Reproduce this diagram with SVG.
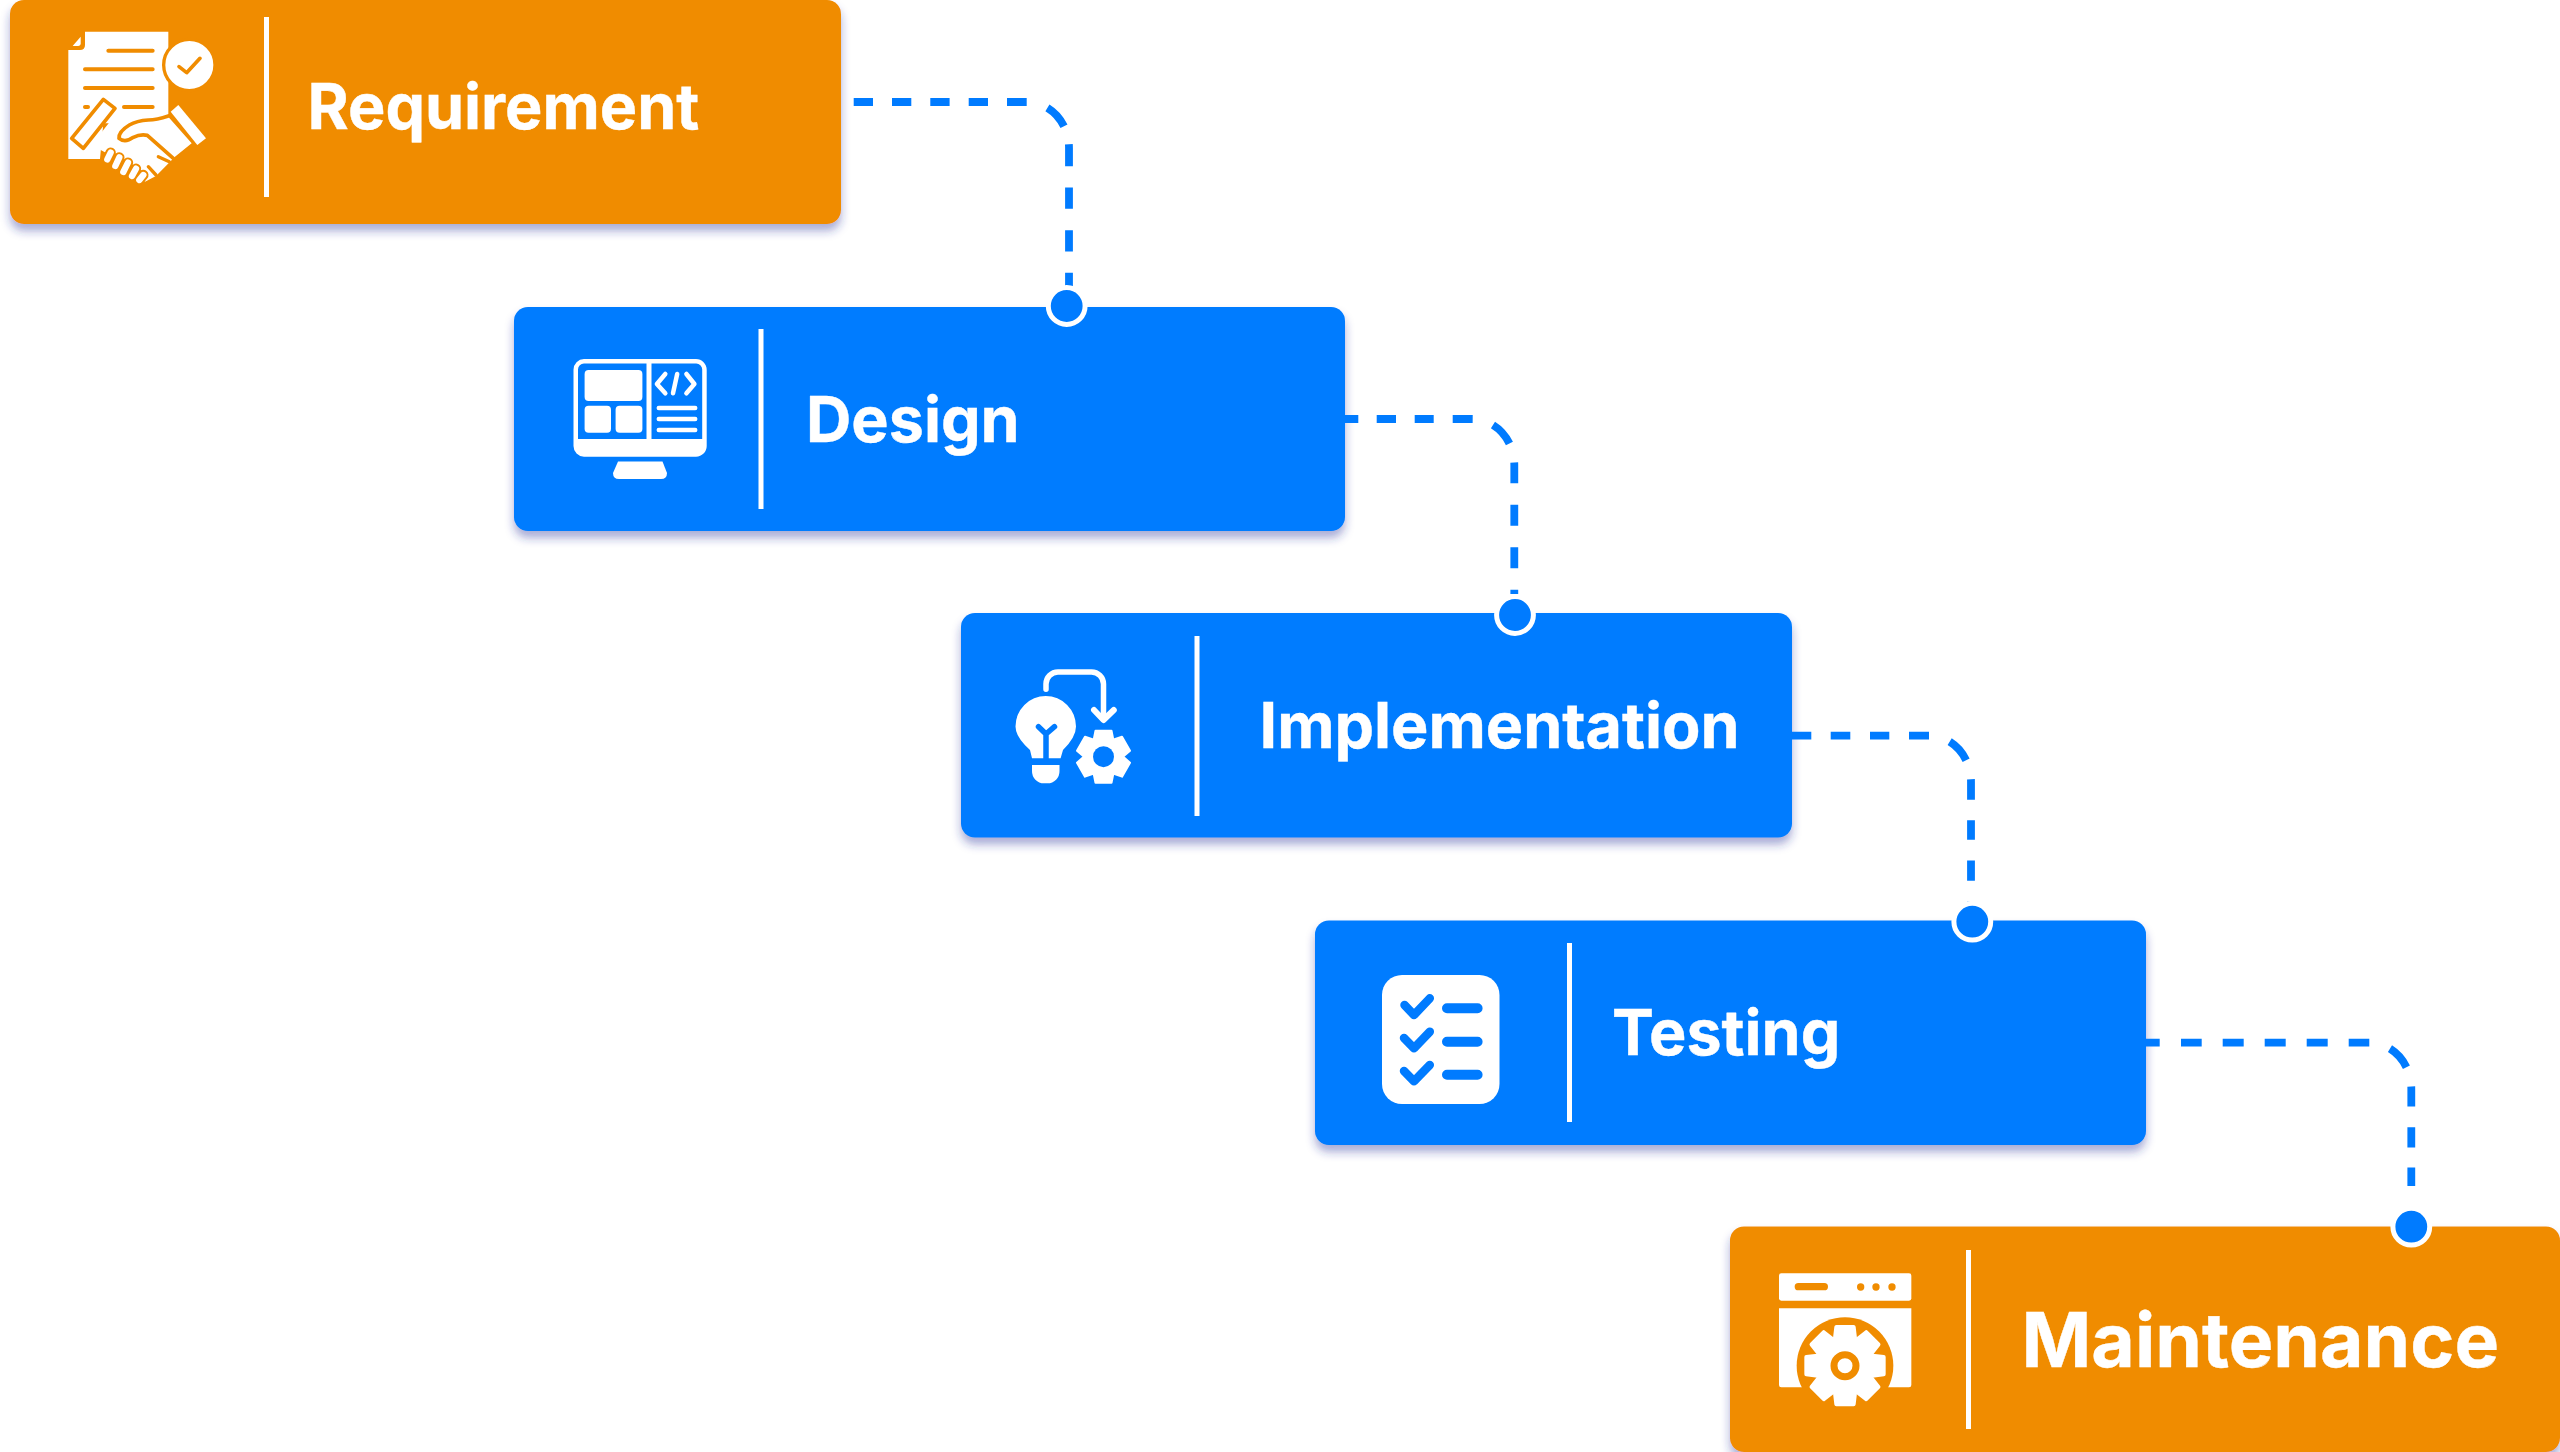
<svg xmlns="http://www.w3.org/2000/svg" width="2560" height="1452" viewBox="0 0 2560 1452">
<style>
.card{filter:url(#sh)}
.or{fill:#F08C00}
.bl{fill:#007BFF}
.div{fill:#fff}
.lbl{font-family:"Inter","Liberation Sans",sans-serif;font-weight:700;fill:#fff;stroke:#fff;stroke-width:0.4}
.w{fill:#fff}
.ol{fill:none;stroke:#F08C00;stroke-linecap:round;stroke-linejoin:round}
.bll{fill:none;stroke:#007BFF;stroke-linecap:round;stroke-linejoin:round}
.wl{fill:none;stroke:#fff;stroke-linecap:round;stroke-linejoin:round}
.cn{fill:none;stroke:#007BFF;stroke-width:7.8}
.dot{fill:#007BFF;stroke:#fff;stroke-width:5}
</style>
<defs>
<filter id="sh" x="-5%" y="-10%" width="110%" height="125%"><feDropShadow dx="0" dy="7" stdDeviation="5" flood-color="#2a2f9a" flood-opacity="0.4"/></filter>
<path id="t5" d="M-30 -82L-26 -116H26L30 -82Z" fill="#fff" stroke="#fff" stroke-width="12" stroke-linejoin="round"/>
<path id="t3" d="M-10 -16L-8 -26H8L10 -16Z" fill="#fff" stroke="#fff" stroke-width="2" stroke-linejoin="round"/>
</defs>
<rect width="2560" height="1452" fill="#fff"/>

<g id="node-requirement">
<rect class="card or" x="10" y="0" width="831" height="224" rx="14"/>
<g transform="translate(50 10) scale(.33333)">
<path class="w" d="M105 65H355V340H160L150 447H55V120H90Q105 120 105 105Z"/>
<path class="w" d="M68 108L92 80V100Q92 108 84 108Z"/>
<g class="ol" stroke-width="12"><path d="M175 122H308M105 178H308M105 234H308M222 291H308M105 291H114"/></g>
<circle cx="418" cy="165" r="77" class="w" stroke="#F08C00" stroke-width="10"/>
<path class="ol" stroke-width="11" d="M387 170L410 188L450 145"/>
<path class="w" d="M190 322Q250 345 350 315L425 400L375 440L318 498L285 515L170 430L125 405Z"/>
<path class="w" stroke="#F08C00" stroke-width="11" stroke-linejoin="round" d="M160 268L195 295L100 415L65 385Z"/>
<path class="w" d="M385 285L468 385L442 405L362 305Z"/>
<path class="ol" stroke-width="11" d="M355 318Q320 330 295 330Q260 332 238 345Q205 365 207 385Q225 400 250 382Q270 372 292 376L370 445"/>
<g class="ol" stroke-width="10"><path d="M325 440L358 455M295 470L318 495"/></g>
<g stroke="#F08C00" stroke-width="31" stroke-linecap="round"><path d="M182 428L172 448M208 442L196 468M234 458L220 486M258 476L246 498M280 495L268 510"/></g>
<g stroke="#fff" stroke-width="19" stroke-linecap="round"><path d="M182 428L172 448M208 442L196 468M234 458L220 486M258 476L246 498M280 495L268 510"/></g>
</g>
<rect class="div" x="264" y="17" width="5" height="180"/>
<text class="lbl" x="307.500" y="129" font-size="62.800">Requirement</text>
</g>

<g id="node-design">
<rect class="card bl" x="514" y="307" width="831" height="224" rx="14"/>
<path class="w" fill-rule="evenodd" d="M584 359H696A10.7 10.7 0 0 1 706.7 369.7V446A10.7 10.7 0 0 1 696 456.7H584A10.7 10.7 0 0 1 573.500 446V369.700A10.7 10.700 0 0 1 584 359ZM584 363.500A6 6 0 0 0 578 369.500V439H646.500V363.500ZM651.500 363.500V439H702.200V369.500A6 6 0 0 0 696 363.500Z"/>
<rect class="w" x="584.600" y="370" width="57.800" height="31" rx="4"/>
<rect class="w" x="584.600" y="405.700" width="26.400" height="27" rx="4"/>
<rect class="w" x="615.600" y="405.700" width="26.800" height="27" rx="4"/>
<g class="wl" stroke-width="4.500"><path d="M665.300 374L656.900 384L665.300 393.300M677.200 374L673 393.300M686.400 374L694.400 384L686.400 393.300M658.800 408H695.200M658.800 419H695.200M658.800 430H695.200"/></g>
<path class="w" d="M618 461.500H662.500L667 473Q667 479 661 479H619Q613 479 613 473Z"/>
<rect class="div" x="758.500" y="329" width="5" height="180"/>
<text class="lbl" x="806" y="442" font-size="62.800">Design</text>
</g>

<g id="node-implementation">
<rect class="card bl" x="961" y="613" width="831" height="224.500" rx="14"/>
<path class="w" d="M1032 758.300L1030 750Q1015.500 737 1015.500 726.500A30.200 30.500 0 0 1 1076 726.500Q1076 737 1063 750L1060.600 758.300Z"/>
<path class="bll" stroke-width="5.500" d="M1038.500 726.700L1046 734L1054.500 726.700M1046 734V759"/>
<path class="w" d="M1032 765H1059.500V771A12 12 0 0 1 1047.500 783.300H1044A12 12 0 0 1 1032 771Z"/>
<path class="wl" stroke-width="5.500" stroke-linecap="butt" d="M1046 689.300V684A12 12 0 0 1 1058 672H1091.500A12 12 0 0 1 1103.500 684V719"/>
<path class="wl" stroke-width="6" d="M1094 710L1103.500 720L1113.800 710"/>
<g transform="translate(1103.500 756.700)">
<circle r="20" class="w"/>
<use href="#t3"/><use href="#t3" transform="rotate(60)"/><use href="#t3" transform="rotate(120)"/><use href="#t3" transform="rotate(180)"/><use href="#t3" transform="rotate(240)"/><use href="#t3" transform="rotate(300)"/>
<circle r="10.500" class="bl"/>
</g>
<rect class="div" x="1194.500" y="636" width="5" height="180"/>
<text class="lbl" x="1259.500" y="748" font-size="62.800">Implementation</text>
</g>

<g id="node-testing">
<rect class="card bl" x="1315" y="920.500" width="831" height="224.500" rx="14"/>
<rect class="w" x="1382" y="975" width="117.500" height="129" rx="20"/>
<g class="bll" stroke-width="8.500"><path d="M1404.500 1005L1414 1015L1429.800 998.300M1404 1038L1414 1048.300L1429.800 1031.700M1404 1071L1414 1081.300L1429.800 1065"/></g>
<g class="bll" stroke-width="10"><path d="M1447 1008.300H1477.600M1447 1041.700H1477.600M1447 1074.700H1477.600"/></g>
<rect class="div" x="1567" y="943" width="5" height="179"/>
<text class="lbl" x="1612" y="1055" font-size="62.800">Testing</text>
</g>

<g id="node-maintenance">
<rect class="card or" x="1730" y="1226.500" width="830" height="225.500" rx="14"/>
<g transform="translate(1760 1260) scale(.33333)">
<rect class="w" x="57" y="40" width="397" height="82" rx="7"/>
<path class="ol" stroke-width="22" d="M115 80H193"/>
<circle class="or" cx="302" cy="81" r="11"/><circle class="or" cx="348" cy="81" r="11"/><circle class="or" cx="396" cy="81" r="11"/>
<path class="w" d="M57 145H454V375Q454 382 447 382H64Q57 382 57 375Z"/>
<circle class="or" cx="255" cy="317" r="145"/>
<g transform="translate(255 317)">
<circle class="w" r="88"/>
<use href="#t5"/><use href="#t5" transform="rotate(45)"/><use href="#t5" transform="rotate(90)"/><use href="#t5" transform="rotate(135)"/><use href="#t5" transform="rotate(180)"/><use href="#t5" transform="rotate(225)"/><use href="#t5" transform="rotate(270)"/><use href="#t5" transform="rotate(315)"/>
<circle r="33" fill="none" stroke="#F08C00" stroke-width="21"/>
</g>
</g>
<rect class="div" x="1966" y="1250" width="5" height="179"/>
<text class="lbl" x="2021.500" y="1367" font-size="75">Maintenance</text>
</g>

<g id="connectors">
<path class="cn" d="M853.700 102H1027A42 46 0 0 1 1069 148V286" stroke-dasharray="19.300 19 19.300 19 19.300 19.100 19.300 19 19.700 21.800 25 18.700 22 21.300 21.300 21.400 21.300 21.300 21 99"/>
<path class="cn" d="M1345 419H1472.300A42 46 0 0 1 1514.300 465V594" stroke-dasharray="13.300 18.400 19.300 18.700 19 19 20 21.400 25 19.700 20.700 21.600 21 21.400 21 21.600 5 99"/>
<path class="cn" d="M1791.700 735.700H1929A42 46 0 0 1 1971 781.700V902" stroke-dasharray="19.600 19.400 19.600 19.700 19.300 19.700 20 21.800 25 19.700 20.600 20.400 19.600 20.700 20.300 20.700 1.400 99"/>
<path class="cn" d="M2145.700 1042.700H2369.300A42 46 0 0 1 2411.300 1088.700V1186" stroke-dasharray="14 21.300 20.700 21 21 21 21 21 21 21 20.600 21.800 25 20 20.100 20.600 20.400 19.900 20.100 99"/>
<circle class="dot" cx="1066.700" cy="306" r="18.400"/>
<circle class="dot" cx="1515" cy="615" r="18.400"/>
<circle class="dot" cx="1972.300" cy="921.700" r="18.400"/>
<circle class="dot" cx="2411.300" cy="1226.700" r="18.400"/>
</g>
</svg>
